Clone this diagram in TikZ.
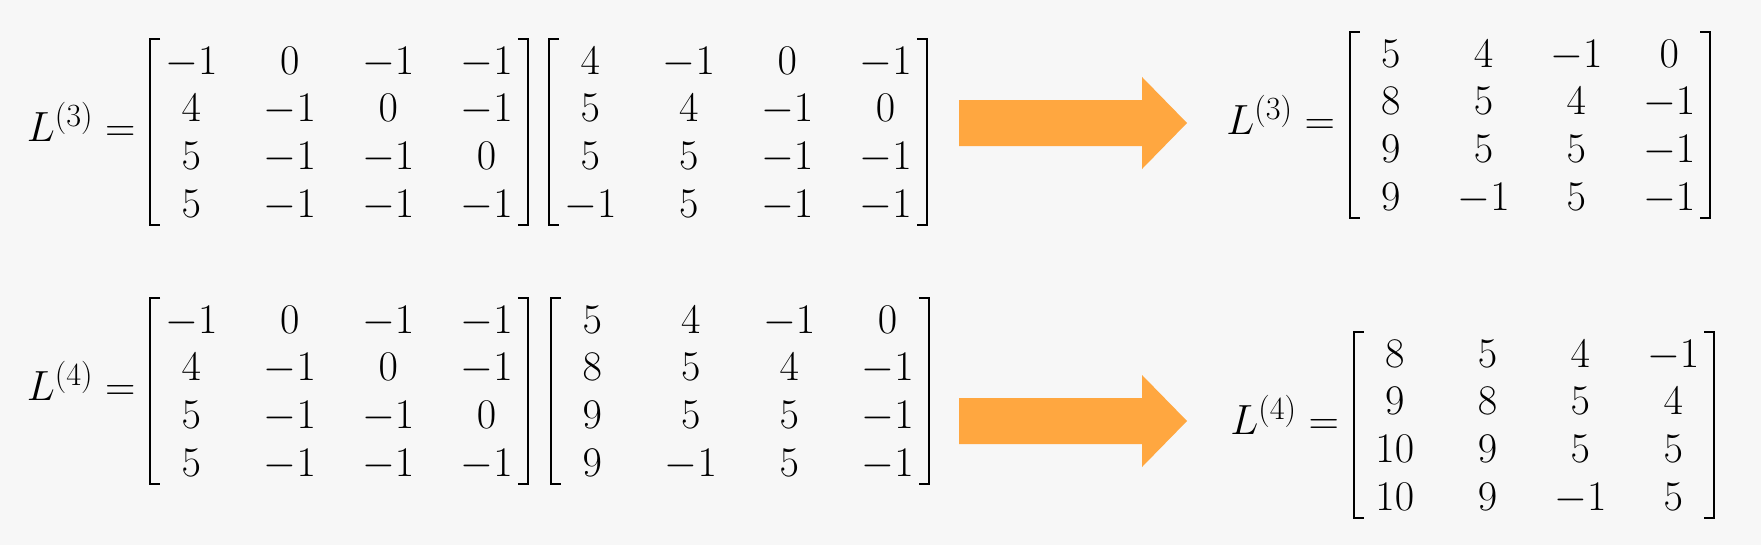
\documentclass[tikz,border=0pt]{standalone}
\usepackage{fix-cm}
\usepackage{amsmath}
\usetikzlibrary{matrix,positioning}

\DeclareMathSizes{30}{30}{23}{17}
\definecolor{bgc}{RGB}{247,247,247}
\definecolor{arrowc}{RGB}{255,167,64}

\begin{document}
\begin{tikzpicture}[x=0.025cm, y=-0.025cm,
    every node/.style={font=\fontsize{30}{36}\selectfont},
    mat/.style={matrix of math nodes, inner sep=0pt,
      column sep=26pt, row sep=11pt,
      nodes={minimum width=44pt, text height=22pt, text depth=1pt, inner sep=0pt, anchor=center}},
    res/.style={mat, column sep=22pt},
    brk/.style={line width=1.5pt, line join=miter},
    lab/.style={anchor=base east}]
    % Background
    \useasboundingbox (0,0) rectangle (1761,545);
    \fill[bgc] (0,0) rectangle (1761,545);

    % First row: L^(3) = A * L^(2)
    \matrix (A1) [mat] at (339,131) {
      -1 & 0 & -1 & -1 \\
      4 & -1 & 0 & -1 \\
      5 & -1 & -1 & 0 \\
      5 & -1 & -1 & -1 \\
    };
    \matrix (B1) [mat] at (738,131) {
      4 & -1 & 0 & -1 \\
      5 & 4 & -1 & 0 \\
      5 & 5 & -1 & -1 \\
      -1 & 5 & -1 & -1 \\
    };
    \node[lab] (labA1) at ([xshift=-14pt, yshift=-7.5pt]A1.west) {$L^{(3)} =$};

    % Result of the first row
    \matrix (R1) [res] at (1530,124) {
      5 & 4 & -1 & 0 \\
      8 & 5 & 4 & -1 \\
      9 & 5 & 5 & -1 \\
      9 & -1 & 5 & -1 \\
    };
    \node[lab] (labR1) at ([xshift=-14pt, yshift=-7.5pt]R1.west) {$L^{(3)} =$};

    % Second row: L^(4) = A * L^(3)
    \matrix (A2) [mat] at (339,390) {
      -1 & 0 & -1 & -1 \\
      4 & -1 & 0 & -1 \\
      5 & -1 & -1 & 0 \\
      5 & -1 & -1 & -1 \\
    };
    \matrix (B2) [mat] at (740,390) {
      5 & 4 & -1 & 0 \\
      8 & 5 & 4 & -1 \\
      9 & 5 & 5 & -1 \\
      9 & -1 & 5 & -1 \\
    };
    \node[lab] (labA2) at ([xshift=-14pt, yshift=-7.5pt]A2.west) {$L^{(4)} =$};

    % Result of the second row
    \matrix (R2) [res] at (1534,424) {
      8 & 5 & 4 & -1 \\
      9 & 8 & 5 & 4 \\
      10 & 9 & 5 & 5 \\
      10 & 9 & -1 & 5 \\
    };
    \node[lab] (labR2) at ([xshift=-14pt, yshift=-7.5pt]R2.west) {$L^{(4)} =$};

    % Square brackets round every matrix
    \foreach \m in {A1,B1,R1,A2,B2,R2} {
      \draw[brk] ([yshift=3pt]\m.north west) -- ++(-7pt,0) |- ([yshift=-4pt]\m.south west);
      \draw[brk] ([yshift=3pt]\m.north east) -- ++(7pt,0) |- ([yshift=-4pt]\m.south east);
    }

    % Orange arrows
    \foreach \yc in {123,421}
      \fill[arrowc] (959,\yc-23) -- (1142,\yc-23) -- (1142,\yc-46) -- (1187,\yc)
        -- (1142,\yc+46) -- (1142,\yc+23) -- (959,\yc+23) -- cycle;
\end{tikzpicture}
\end{document}
